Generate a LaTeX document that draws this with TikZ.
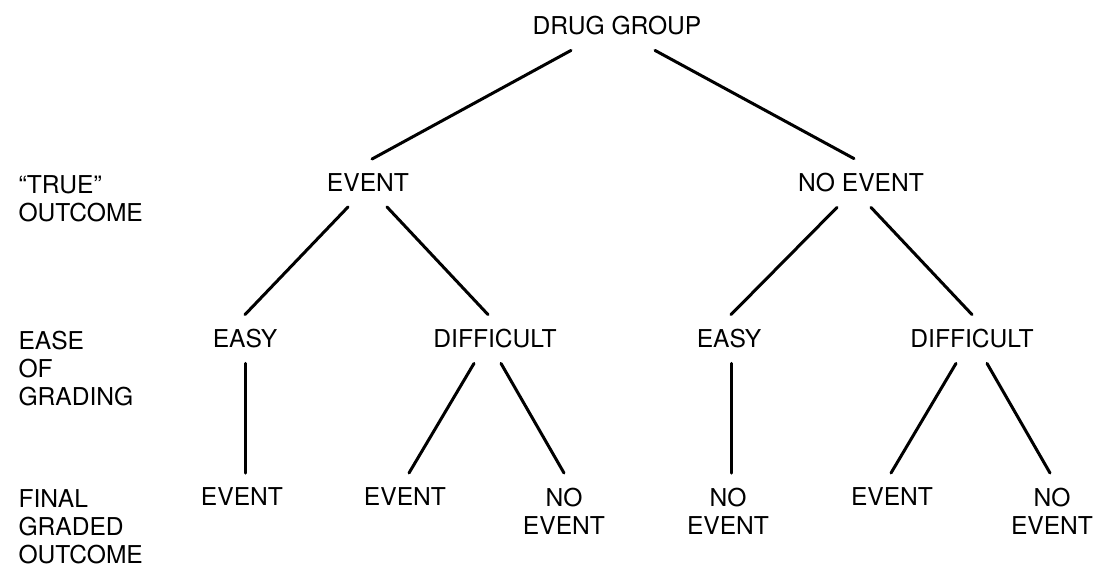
\documentclass[tikz,border=0pt]{standalone}
\usepackage{fontspec}
\setmainfont{TeX Gyre Heros}
\newcommand{\lblfont}{\fontsize{24.6pt}{28pt}\selectfont}

\begin{document}
\begin{tikzpicture}[x=1pt,y=-1pt,line width=3pt,line cap=round]
  \tikzstyle{tnode}=[font=\lblfont, inner sep=0pt, outer ysep=15pt, align=center]
  \tikzstyle{side}=[font=\lblfont, inner sep=0pt, align=left, anchor=north west]

  \useasboundingbox (0,0) rectangle (1097,563);

  % Draw the tree nodes
  \node[tnode] (dg) at (617,26) {DRUG GROUP};
  \node[tnode] (ev) at (368,183) {EVENT};
  \node[tnode] (nev) at (861,183) {NO EVENT};

  \foreach \name/\x/\txt in {easy1/245/EASY, diff1/495/DIFFICULT,
    easy2/729/EASY, diff2/972/DIFFICULT}
  \node[tnode] (\name) at (\x,339) {\txt};

  % final graded outcomes, placed by their top edge
  \foreach \name/\x/\txt in {f1/242/EVENT, f2/405/EVENT, f3/564/{NO\\EVENT},
    f4/728/{NO\\EVENT}, f5/892/EVENT, f6/1052/{NO\\EVENT}}
  \node[tnode, anchor=north] (\name) at (\x,473) {\txt};

  % Row labels on the left
  \node[side] (rl1) at (17,174) {``TRUE''\\OUTCOME};
  \node[side] (rl2) at (17,330) {EASE\\OF\\GRADING};
  \node[side] (rl3) at (17,488) {FINAL\\GRADED\\OUTCOME};

  % Connect nodes
  \foreach \a/\sa/\b/\sb in {dg/-46/ev/4, dg/38/nev/-7,
    ev/-20/easy1/0, ev/19/diff1/-7, nev/-24/easy2/2, nev/10/diff2/0,
    easy1/0/f1/3, diff1/-21/f2/4, diff1/6/f3/0,
    easy2/2/f4/3, diff2/-16/f5/-1, diff2/15/f6/-2}
  \draw ([xshift=\sa pt]\a.south) -- ([xshift=\sb pt]\b.north);
\end{tikzpicture}
\end{document}
